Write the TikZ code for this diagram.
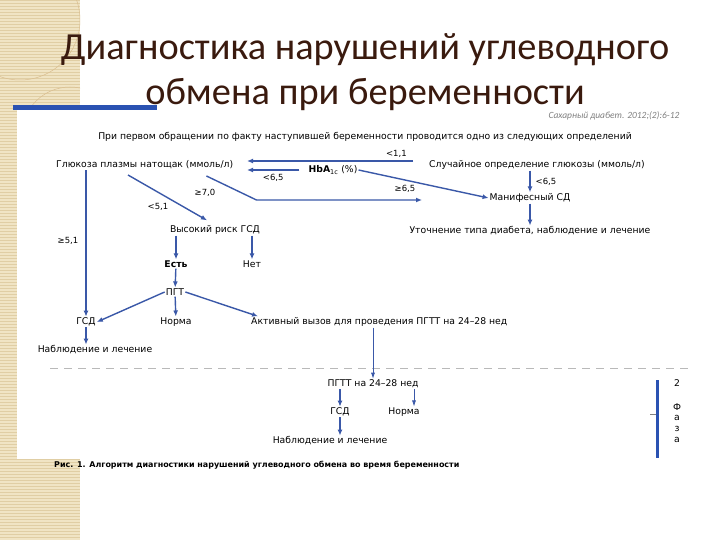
\documentclass[tikz,border=0pt]{standalone}
\usepackage{fontspec}
\setmainfont{Carlito}
\newfontfamily\figfont{DejaVu Sans}
\usetikzlibrary{arrows.meta,calc,positioning}
\definecolor{titlebrown}{RGB}{58,26,14}
\definecolor{arrowblue}{RGB}{58,88,168}
\definecolor{barblue}{RGB}{42,82,178}
\definecolor{beige}{RGB}{240,228,196}
\definecolor{stripe}{RGB}{224,206,164}

\begin{document}
\begin{tikzpicture}[
    x=1bp, y=-1bp,
    txt/.style={font=\figfont\fontsize{9.3}{11}\selectfont, inner sep=1bp},
    lbl/.style={font=\figfont\fontsize{8.5}{10}\selectfont, inner sep=0pt, text=black},
    arr/.style={-{Latex[length=6bp,width=5bp]}, arrowblue, line width=1.4bp},
    thinarr/.style={-{Latex[length=6bp,width=4bp]}, arrowblue, line width=0.7bp}
]
\useasboundingbox (0,0) rectangle (720,540);
% slide background
\fill[beige] (0,0) rectangle (80,540);
\foreach \y in {0,3,...,540}
  \draw[stripe, line width=0.6bp] (0,\y) -- (80,\y);
\begin{scope}
  \clip (0,0) rectangle (80,540);
  \draw[stripe!80!brown, line width=0.5bp] (70,135) circle (48);
  \draw[stripe!80!brown, line width=0.5bp] (20,20) circle (60);
\end{scope}
\fill[white] (17,110) rectangle (720,459);
\fill[barblue] (13,105) rectangle (157,110);

\node[font=\fontsize{38.5}{45}\selectfont, text=titlebrown, align=center] (title) at (365,72)
  {Диагностика нарушений углеводного\\обмена при беременности};
\node[font=\itshape\fontsize{9.5}{10}\selectfont, text=gray] (src) at (614,116) {Сахарный диабет. 2012;(2):6-12};

% first visit
\node[txt] (head) at (365,137) {При первом обращении по факту наступившей беременности проводится одно из следующих определений};
\node[txt, anchor=west] (gluc) at (55,165) {Глюкоза плазмы натощак (ммоль/л)};
\node[txt] (hba) at (333,170) {\textbf{HbA}\textsubscript{1c} (\%)};
\node[txt, anchor=west] (rand) at (428,165) {Случайное определение глюкозы (ммоль/л)};
\node[txt] (manif) at (530,198) {Манифесный СД};
\node[txt] (clar) at (530,231) {Уточнение типа диабета, наблюдение и лечение};
\node[txt] (risk) at (215,230) {Высокий риск ГСД};
\node[txt] (yes) at (176,264) {\textbf{Есть}};
\node[txt] (no) at (252,264) {Нет};
\node[txt] (ogtt) at (175,292) {ПГТ};
\node[txt] (gdm) at (86,322) {ГСД};
\node[txt] (norm) at (176,322) {Норма};
\node[txt, anchor=west] (call) at (250,322) {Активный вызов для проведения ПГТТ на 24–28 нед};
\node[txt] (obs) at (95,350) {Наблюдение и лечение};

\coordinate (gin) at (247,0);
\coordinate (g70) at (422,200);

\draw[arr] ([shift={(-15,-4)}]rand.west) coordinate (r1) -- (r1 -| gin)
    node[lbl, pos=0.1, above=3bp] {<1,1};
\draw[arr] ([xshift=-8bp]hba.west) -- (hba.west -| gin)
    node[lbl, midway, below=4bp] {<6,5};
\draw[arr] (hba.east) -- (manif.west);
\node[lbl] (l65) at (405,189) {≥6,5};
\draw[arr] ([shift={(-28,11)}]gluc.east) -- ++(50,24) -- (g70);
\node[lbl] (l70) at (205,193) {≥7,0};
\draw[arr] ([shift={(73,10)}]gluc.west) -- ([shift={(-8,-4)}]risk.north);
\node[lbl] (l51a) at (158,207) {<5,1};
\draw[arr] (gluc.south -| gdm) -- (gdm.north);
\node[lbl] (l51b) at (68,241) {≥5,1};
\draw[arr] (rand.south -| manif) -- (manif.north)
    node[lbl, midway, right=5bp] {<6,5};
\draw[arr] (manif) -- (clar);

\draw[arr] (risk.south -| yes) -- (yes.north);
\draw[arr] (risk.south -| no) -- (no.north);
\draw[arr] (yes) -- (ogtt);
\draw[arr] (ogtt.west) -- (gdm.east);
\draw[arr] (ogtt) -- (norm);
\draw[arr] (ogtt.east) -- ([xshift=8bp]call.north west);
\draw[arr] (gdm.south) -- (gdm.south |- obs.north);

% second phase
\draw[gray!55, line width=0.8bp, dash pattern=on 8bp off 6bp] (50,368) -- (690,368);
\node[txt] (ogtt2) at (373,384) {ПГТТ на 24–28 нед};
\node[txt] (gdm2) at (340,412) {ГСД};
\node[txt] (norm2) at (404,412) {Норма};
\node[txt] (obs2) at (330,441) {Наблюдение и лечение};
\coordinate (n2top) at ([xshift=10bp]norm2.north);

\draw[thinarr] (call.south -| ogtt2) -- (ogtt2.north);
\draw[arr] (ogtt2.south -| gdm2) -- (gdm2.north);
\draw[thinarr] (n2top |- ogtt2.south) -- (n2top);
\draw[arr] (gdm2.south) -- (gdm2.south |- obs2.north);

\draw[barblue, line width=3bp] (657,380) -- (657,458);
\draw[gray, line width=0.6bp] (650,414) -- (656,414);
\node[txt, align=center, anchor=north] (phase) at (677,378) {2\\[13bp]Ф\\а\\з\\а};

\node[txt, anchor=west, font=\figfont\bfseries\fontsize{8}{10}\selectfont] (cap) at (53,465)
  {Рис. 1. Алгоритм диагностики нарушений углеводного обмена во время беременности};
\end{tikzpicture}
\end{document}
